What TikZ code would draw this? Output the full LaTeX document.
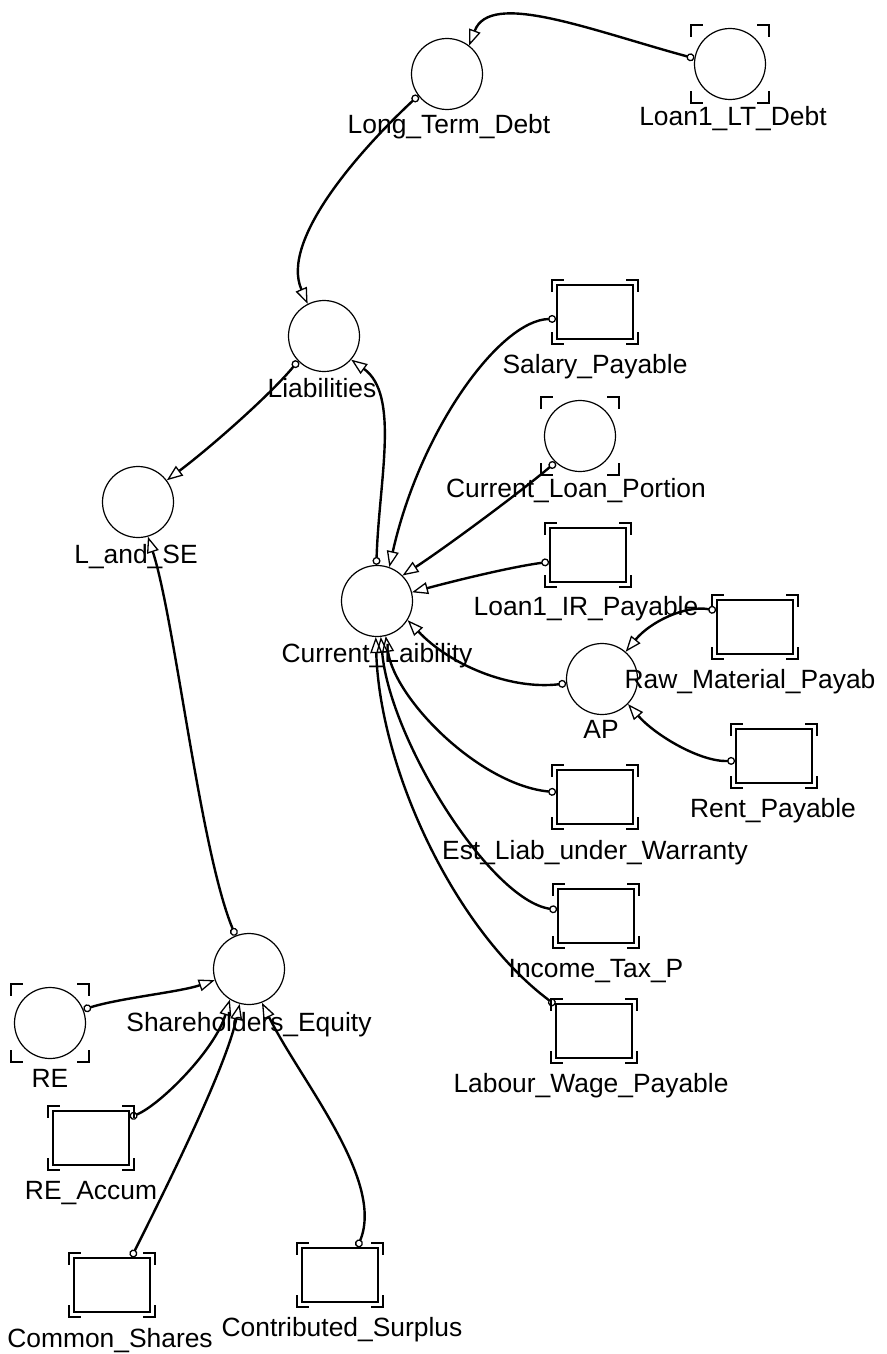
\documentclass[tikz,border=0pt]{standalone}
\usepackage{fontspec}
\setmainfont{Liberation Sans}
\usetikzlibrary{arrows.meta}

% corner brackets that mark a ghost / external element
\newcommand\ghostmarks[2]{%
  \path (#1.west |- #1.north) ++(-#2,#2) coordinate (gnw)
        (#1.east |- #1.north) ++(#2,#2) coordinate (gne)
        (#1.west |- #1.south) ++(-#2,-#2) coordinate (gsw)
        (#1.east |- #1.south) ++(#2,-#2) coordinate (gse);
  \draw[ghostline] ([yshift=-11pt]gnw) -- (gnw) -- ([xshift=11pt]gnw);
  \draw[ghostline] ([xshift=-11pt]gne) -- (gne) -- ([yshift=-11pt]gne);
  \draw[ghostline] ([yshift=11pt]gsw) -- (gsw) -- ([xshift=11pt]gsw);
  \draw[ghostline] ([xshift=-11pt]gse) -- (gse) -- ([yshift=11pt]gse);
}

\tikzset{
  conv/.style={circle, draw, line width=1.2pt, minimum size=71pt, inner sep=0pt},
  stock/.style={rectangle, draw, line width=1.8pt, minimum width=76pt, minimum height=54pt, inner sep=0pt},
  lab/.style={anchor=base, inner sep=0pt, font=\fontsize{26.4}{30}\selectfont},
  conn/.style={line width=2.4pt,
    {Circle[open,length=8pt,width=8pt,line width=1.3pt]}-{Triangle[open,length=16pt,width=12pt,line width=1.3pt]}},
  ghostline/.style={line width=1.8pt, line cap=rect},
}

\begin{document}
\begin{tikzpicture}[x=1pt,y=-1pt]
\useasboundingbox (0,0) rectangle (886,1354);

% converters
\node[conv] (ltd)   at (447,74)   {};
\node[conv] (loan1) at (730,64)   {};
\node[conv] (liab)  at (324,336)  {};
\node[conv] (lse)   at (138,502)  {};
\node[conv] (clp)   at (580,436)  {};
\node[conv] (cl)    at (377,601)  {};
\node[conv] (ap)    at (602,679)  {};
\node[conv] (se)    at (249,969)  {};
\node[conv] (re)    at (50,1023)  {};

% stocks
\node[stock] (salary)  at (595,312)  {};
\node[stock] (loanir)  at (588,555)  {};
\node[stock] (rawmat)  at (755,627)  {};
\node[stock] (rent)    at (774,756)  {};
\node[stock] (estliab) at (595,797)  {};
\node[stock] (income)  at (596,916)  {};
\node[stock] (labour)  at (594,1031) {};
\node[stock] (reacc)   at (91,1138)  {};
\node[stock] (common)  at (112,1285) {};
\node[stock] (contrib) at (340,1275) {};

% ghost brackets
\ghostmarks{loan1}{3pt}
\ghostmarks{clp}{3pt}
\ghostmarks{re}{3pt}
\ghostmarks{salary}{4pt}
\ghostmarks{loanir}{4pt}
\ghostmarks{rawmat}{4pt}
\ghostmarks{rent}{4pt}
\ghostmarks{estliab}{4pt}
\ghostmarks{income}{4pt}
\ghostmarks{labour}{4pt}
\ghostmarks{reacc}{4pt}
\ghostmarks{common}{4pt}
\ghostmarks{contrib}{4pt}

% labels
\node[lab] (ltdL)     at (449,133)  {Long\_Term\_Debt};
\node[lab] (loan1L)   at (733,125)  {Loan1\_LT\_Debt};
\node[lab] (liabL)    at (322,397)  {Liabilities};
\node[lab] (lseL)     at (136,563)  {L\_and\_SE};
\node[lab] (clpL)     at (576,497)  {Current\_Loan\_Portion};
\node[lab] (clL)      at (377,662)  {Current\_Laibility};
\node[lab] (apL)      at (601,738)  {AP};
\node[lab] (seL)      at (249,1031) {Shareholders\_Equity};
\node[lab] (reL)      at (50,1087)  {RE};
\node[lab] (salaryL)  at (595,373)  {Salary\_Payable};
\node[lab] (loanirL)  at (586,615)  {Loan1\_IR\_Payable};
\node[lab] (rawmatL)  at (750,688)  {Raw\_Material\_Payab};
\node[lab] (rentL)    at (773,817)  {Rent\_Payable};
\node[lab] (estliabL) at (595,859)  {Est\_Liab\_under\_Warranty};
\node[lab] (incomeL)  at (596,977)  {Income\_Tax\_P};
\node[lab] (labourL)  at (591,1092) {Labour\_Wage\_Payable};
\node[lab] (reaccL)   at (91,1199)  {RE\_Accum};
\node[lab] (commonL)  at (110,1347) {Common\_Shares};
\node[lab] (contribL) at (342,1336) {Contributed\_Surplus};

% connectors
\draw[conn] (loan1.171) .. controls (590,30) and (490,-10) .. (ltd.52);
\draw[conn] (ltd.217) .. controls (360,150) and (280,240) .. (liab.117);
\draw[conn] (liab.224) .. controls (270,395) and (211,447) .. (lse.37);
\draw[conn] (cl.91) .. controls (379,480) and (400,395) .. (liab.-41);
\draw[conn] (salary.190) .. controls (500,320) and (420,430) .. (cl.70);
\draw[conn] (clp.227) .. controls (518,494) and (442,550) .. (cl.45);
\draw[conn] (loanir.190) .. controls (510,567) and (450,582) .. (cl.14);
\draw[conn] (ap.187) .. controls (510,690) and (450,665) .. (cl.-32);
\draw[conn] (rawmat.157) .. controls (685,605) and (650,622) .. (ap.49);
\draw[conn] (rent.187) .. controls (700,762) and (655,735) .. (ap.-44);
\draw[conn] (estliab.173) .. controls (480,785) and (395,700) .. (cl.-76);
\draw[conn] (income.171) .. controls (490,900) and (390,740) .. (cl.-84);
\draw[conn] (labour.146) .. controls (455,930) and (380,770) .. (cl.-92);
\draw[conn] (se.112) .. controls (200,850) and (175,620) .. (lse.-74);
\draw[conn] (re.22) .. controls (120,998) and (180,992) .. (se.198);
\draw[conn] (reacc.28) .. controls (160,1105) and (215,1050) .. (se.238);
\draw[conn] (common.55) .. controls (165,1190) and (225,1070) .. (se.255);
\draw[conn] (contrib.58) .. controls (385,1180) and (300,1080) .. (se.-69);
\end{tikzpicture}
\end{document}
